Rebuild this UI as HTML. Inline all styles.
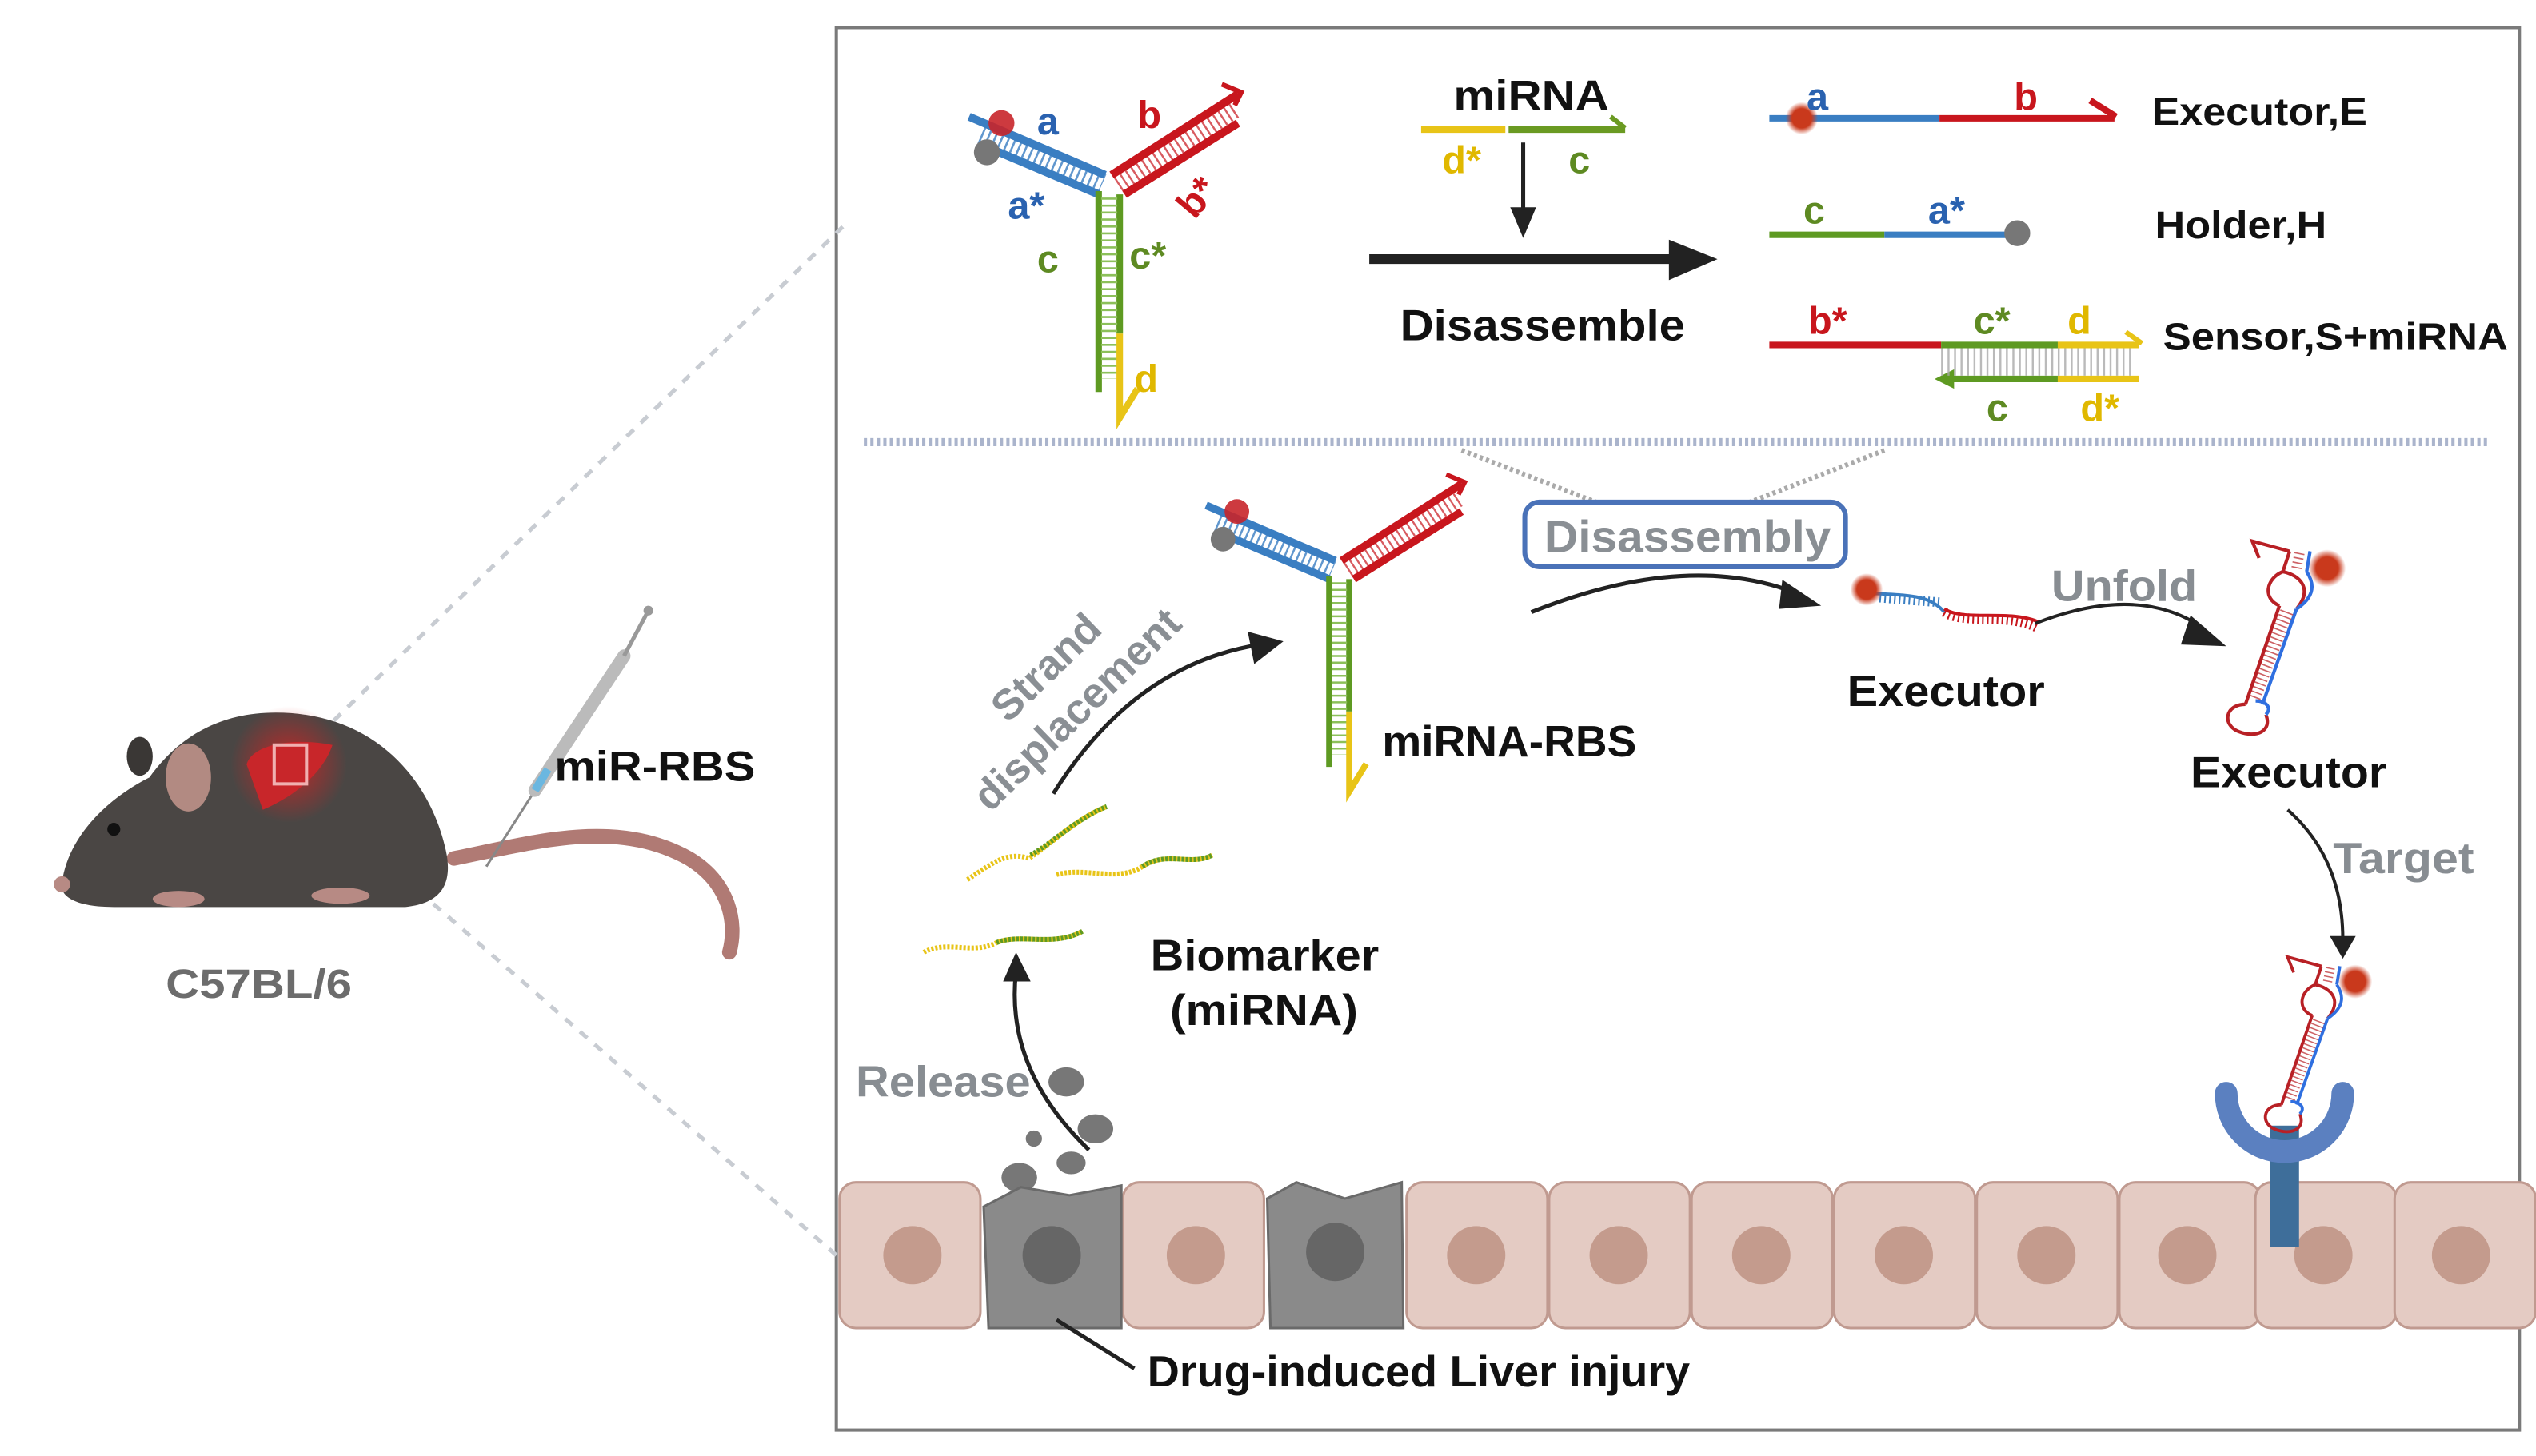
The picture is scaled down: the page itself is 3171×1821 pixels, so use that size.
<!DOCTYPE html>
<html><head><meta charset="utf-8"><style>
html,body{margin:0;padding:0;background:#fff;}
svg{display:block;}
text{font-family:"Liberation Sans",sans-serif;font-weight:bold;}
</style></head><body>
<svg width="3171" height="1821" viewBox="0 0 1565 899" xmlns="http://www.w3.org/2000/svg">
<defs>
<radialGradient id="rd"><stop offset="0" stop-color="#c9391c"/><stop offset="0.6" stop-color="#c9391c"/><stop offset="1" stop-color="#c9391c" stop-opacity="0"/></radialGradient>
<radialGradient id="glow"><stop offset="0" stop-color="#e02020" stop-opacity="0.8"/><stop offset="1" stop-color="#e02020" stop-opacity="0"/></radialGradient>
<g id="Y">
  <line x1="-86" y1="-40" x2="-2" y2="-4" stroke="#3a7ec2" stroke-width="5"/>
  <line x1="-72" y1="-20" x2="-6" y2="8" stroke="#3a7ec2" stroke-width="5"/>
  <line x1="-78" y1="-30" x2="-4" y2="2" stroke="#3a7ec2" stroke-width="14" stroke-dasharray="1.3 2.7" opacity="0.8"/>
  <line x1="2" y1="-4" x2="80" y2="-54" stroke="#c8161d" stroke-width="5"/>
  <polyline points="70,-60 82,-55 78,-47" fill="none" stroke="#c8161d" stroke-width="3"/>
  <line x1="10" y1="8" x2="80" y2="-36" stroke="#c8161d" stroke-width="5"/>
  <line x1="6" y1="2" x2="78" y2="-45" stroke="#c8161d" stroke-width="12" stroke-dasharray="1.2 2.8" opacity="0.7"/>
  <line x1="-6" y1="6" x2="-6" y2="130" stroke="#5e9a22" stroke-width="4"/>
  <line x1="7" y1="8" x2="7" y2="94" stroke="#5e9a22" stroke-width="4"/>
  <line x1="0.5" y1="10" x2="0.5" y2="122" stroke="#8cc05a" stroke-width="10" stroke-dasharray="1.3 3"/>
  <polyline points="7,94 7,146 18,128" fill="none" stroke="#e8c417" stroke-width="4"/>
  <circle cx="-66" cy="-36" r="8" fill="#c8252a" opacity="0.9"/>
  <circle cx="-75" cy="-18" r="8" fill="#777"/>
</g>
<g id="hp">
  <path d="M-2,-2 C-14,-2 -16,10 -6,14 C4,18 14,14 10,4" fill="none" stroke="#b82025" stroke-width="2"/>
  <path d="M10,4 C14,0 10,-4 4,-4" fill="none" stroke="#2f6fe0" stroke-width="2"/>
  <line x1="-2" y1="-2" x2="18" y2="-60" stroke="#b82025" stroke-width="2"/>
  <line x1="8" y1="-2" x2="28" y2="-58" stroke="#2f6fe0" stroke-width="2"/>
  <line x1="3" y1="-6" x2="23" y2="-58" stroke="#b82025" stroke-width="8" stroke-dasharray="0.8 2" opacity="0.7"/>
  <path d="M18,-60 C8,-64 10,-76 20,-80 C30,-78 38,-70 28,-58" fill="none" stroke="#b82025" stroke-width="2"/>
  <path d="M28,-58 C40,-66 38,-74 34,-80" fill="none" stroke="#2f6fe0" stroke-width="2"/>
  <line x1="20" y1="-80" x2="24" y2="-92" stroke="#b82025" stroke-width="2"/>
  <line x1="34" y1="-80" x2="36" y2="-92" stroke="#2f6fe0" stroke-width="2"/>
  <line x1="28" y1="-82" x2="30" y2="-92" stroke="#b82025" stroke-width="6" stroke-dasharray="0.8 2" opacity="0.7"/>
  <polyline points="24,-92 2,-98 6,-88" fill="none" stroke="#b82025" stroke-width="2"/>
  <circle cx="46" cy="-82" r="11" fill="url(#rd)"/>
</g>
</defs>

<rect x="516" y="17" width="1039" height="866" fill="none" stroke="#7a7a7a" stroke-width="2"/>

<line x1="180" y1="470" x2="520" y2="140" stroke="#c8ccd2" stroke-width="2.5" stroke-dasharray="6 6"/>
<line x1="195" y1="495" x2="516" y2="775" stroke="#c8ccd2" stroke-width="2.5" stroke-dasharray="6 6"/>

<!-- mouse -->
<path d="M280,530 C330,520 380,505 425,530 C450,545 455,570 450,588" fill="none" stroke="#b07a74" stroke-width="9" stroke-linecap="round"/>
<path d="M38,545 C42,515 68,492 92,480 C110,455 135,440 170,440 C230,440 265,480 275,525 C280,548 270,558 250,560 L70,560 C50,560 36,555 38,545 Z" fill="#4a4644"/>
<ellipse cx="86" cy="467" rx="8" ry="12" fill="#3a3735"/>
<ellipse cx="116" cy="480" rx="14" ry="21" fill="#b28a82"/>
<circle cx="70" cy="512" r="4" fill="#111"/>
<ellipse cx="38" cy="546" rx="5" ry="5" fill="#b78a84"/>
<ellipse cx="110" cy="555" rx="16" ry="5" fill="#b78a84"/>
<ellipse cx="210" cy="553" rx="18" ry="5" fill="#b78a84"/>
<circle cx="178" cy="472" r="36" fill="url(#glow)"/>
<path d="M152,472 C155,460 180,455 205,460 C200,475 185,490 162,500 Z" fill="#c8262a"/>
<rect x="169" y="460" width="20" height="24" fill="none" stroke="#f0b0b0" stroke-width="2"/>
<text x="102" y="616" font-size="25" fill="#6c6c6c" textLength="115" lengthAdjust="spacingAndGlyphs">C57BL/6</text>
<line x1="300" y1="535" x2="330" y2="488" stroke="#888" stroke-width="1.5"/>
<line x1="330" y1="488" x2="385" y2="405" stroke="#bbb" stroke-width="8" stroke-linecap="round"/>
<line x1="385" y1="405" x2="400" y2="377" stroke="#999" stroke-width="2.5"/>
<circle cx="400" cy="377" r="3" fill="#999"/>
<line x1="330" y1="488" x2="338" y2="475" stroke="#6bb7e0" stroke-width="5"/>
<text x="342" y="482" font-size="26" fill="#111" textLength="124" lengthAdjust="spacingAndGlyphs">miR-RBS</text>

<!-- top section -->
<use href="#Y" transform="translate(684,112)"/>
<text x="640" y="83" font-size="24" fill="#2a62b0">a</text>
<text x="622" y="135" font-size="24" fill="#2a62b0">a*</text>
<text x="702" y="79" font-size="24" fill="#c8161d">b</text>
<text x="724" y="132" font-size="24" fill="#c8161d" transform="rotate(-50 735 120)">b*</text>
<text x="640" y="168" font-size="24" fill="#5e8a22">c</text>
<text x="697" y="166" font-size="24" fill="#5e8a22">c*</text>
<text x="700" y="242" font-size="24" fill="#e0b800">d</text>

<text x="897" y="68" font-size="26" fill="#111" textLength="96" lengthAdjust="spacingAndGlyphs">miRNA</text>
<line x1="877" y1="80" x2="929" y2="80" stroke="#e8c417" stroke-width="4"/>
<line x1="931" y1="80" x2="1003" y2="80" stroke="#6a9a22" stroke-width="4"/>
<line x1="994" y1="72" x2="1003" y2="79" stroke="#6a9a22" stroke-width="3"/>
<text x="890" y="107" font-size="24" fill="#e0b800">d*</text>
<text x="968" y="107" font-size="24" fill="#5e8a22">c</text>
<line x1="940" y1="88" x2="940" y2="132" stroke="#222" stroke-width="2.5"/>
<polygon points="932,128 948,128 940,147" fill="#222"/>
<line x1="845" y1="160" x2="1035" y2="160" stroke="#222" stroke-width="6"/>
<polygon points="1030,148 1060,160 1030,173" fill="#222"/>
<text x="864" y="210" font-size="27" fill="#111" textLength="176" lengthAdjust="spacingAndGlyphs">Disassemble</text>

<line x1="1092" y1="73" x2="1197" y2="73" stroke="#3a7ec2" stroke-width="4"/>
<line x1="1197" y1="73" x2="1305" y2="73" stroke="#c8161d" stroke-width="4"/>
<polyline points="1290,62 1306,72" fill="none" stroke="#c8161d" stroke-width="4"/>
<circle cx="1112" cy="73" r="10" fill="url(#rd)"/>
<text x="1115" y="68" font-size="24" fill="#2a62b0">a</text>
<text x="1243" y="68" font-size="24" fill="#c8161d">b</text>
<text x="1328" y="77" font-size="24" fill="#111" textLength="133" lengthAdjust="spacingAndGlyphs">Executor,E</text>
<line x1="1092" y1="145" x2="1163" y2="145" stroke="#5e9a22" stroke-width="4"/>
<line x1="1163" y1="145" x2="1243" y2="145" stroke="#3a7ec2" stroke-width="4"/>
<circle cx="1245" cy="144" r="8" fill="#777"/>
<text x="1113" y="138" font-size="24" fill="#5e8a22">c</text>
<text x="1190" y="138" font-size="24" fill="#2a62b0">a*</text>
<text x="1330" y="147" font-size="24" fill="#111" textLength="106" lengthAdjust="spacingAndGlyphs">Holder,H</text>
<line x1="1092" y1="213" x2="1198" y2="213" stroke="#c8161d" stroke-width="4"/>
<line x1="1198" y1="213" x2="1270" y2="213" stroke="#5e9a22" stroke-width="4"/>
<line x1="1270" y1="213" x2="1320" y2="213" stroke="#e8c417" stroke-width="4"/>
<line x1="1312" y1="205" x2="1322" y2="212" stroke="#e8c417" stroke-width="3"/>
<line x1="1204" y1="234" x2="1270" y2="234" stroke="#5e9a22" stroke-width="4"/>
<polygon points="1194,234 1206,228 1206,240" fill="#5e9a22"/>
<line x1="1270" y1="234" x2="1320" y2="234" stroke="#e8c417" stroke-width="4"/>
<line x1="1198" y1="223.5" x2="1318" y2="223.5" stroke="#aaa" stroke-width="17" stroke-dasharray="1.2 2.8" opacity="0.8"/>
<text x="1116" y="206" font-size="24" fill="#c8161d">b*</text>
<text x="1218" y="206" font-size="24" fill="#5e8a22">c*</text>
<text x="1276" y="206" font-size="24" fill="#e0b800">d</text>
<text x="1226" y="260" font-size="24" fill="#5e8a22">c</text>
<text x="1284" y="260" font-size="24" fill="#e0b800">d*</text>
<text x="1335" y="216" font-size="24" fill="#111" textLength="213" lengthAdjust="spacingAndGlyphs">Sensor,S+miRNA</text>

<line x1="533" y1="273" x2="1535" y2="273" stroke="#aab4cc" stroke-width="5" stroke-dasharray="2 2"/>
<line x1="902" y1="278" x2="985" y2="310" stroke="#aaa" stroke-width="3" stroke-dasharray="2 2"/>
<line x1="1163" y1="278" x2="1080" y2="310" stroke="#aaa" stroke-width="3" stroke-dasharray="2 2"/>

<use href="#Y" transform="translate(826,350) scale(0.95)"/>
<text x="853" y="467" font-size="27" fill="#111" textLength="157" lengthAdjust="spacingAndGlyphs">miRNA-RBS</text>

<rect x="941" y="310" width="198" height="40" rx="9" fill="#fff" stroke="#4a72b8" stroke-width="3"/>
<text x="953" y="341" font-size="28" fill="#8a8f94" textLength="177" lengthAdjust="spacingAndGlyphs">Disassembly</text>
<path d="M945,378 Q1040,340 1108,366" fill="none" stroke="#222" stroke-width="2.5"/>
<polygon points="1100,358 1124,374 1098,376" fill="#222"/>

<path d="M1150,366 C1175,368 1190,366 1200,378" fill="none" stroke="#3a7ec2" stroke-width="2"/>
<line x1="1160" y1="369" x2="1198" y2="372" stroke="#3a7ec2" stroke-width="6" stroke-dasharray="1 2"/>
<path d="M1200,378 C1212,386 1240,378 1258,388" fill="none" stroke="#c8161d" stroke-width="6" stroke-dasharray="1 2"/>
<path d="M1200,376 C1212,384 1240,376 1258,384" fill="none" stroke="#c8161d" stroke-width="2"/>
<circle cx="1152" cy="364" r="10" fill="url(#rd)"/>
<text x="1140" y="436" font-size="27" fill="#111" textLength="122" lengthAdjust="spacingAndGlyphs">Executor</text>
<text x="1266" y="371" font-size="27" fill="#888d92" textLength="90" lengthAdjust="spacingAndGlyphs">Unfold</text>
<path d="M1256,385 Q1320,360 1360,388" fill="none" stroke="#222" stroke-width="2"/>
<polygon points="1352,380 1374,399 1346,398" fill="#222"/>
<use href="#hp" transform="translate(1388,437) scale(1.05)"/>
<text x="1352" y="486" font-size="27" fill="#111" textLength="121" lengthAdjust="spacingAndGlyphs">Executor</text>
<text x="1440" y="539" font-size="27" fill="#888d92" textLength="87" lengthAdjust="spacingAndGlyphs">Target</text>
<path d="M1412,500 Q1446,530 1446,580" fill="none" stroke="#222" stroke-width="2"/>
<polygon points="1438,578 1454,578 1446,592" fill="#222"/>

<text font-size="26" fill="#8a8f94" transform="translate(622,447) rotate(-44)">Strand</text>
<text font-size="26" fill="#8a8f94" transform="translate(611,502) rotate(-44)">displacement</text>
<path d="M650,490 Q700,410 778,398" fill="none" stroke="#222" stroke-width="2.5"/>
<polygon points="770,390 792,396 774,410" fill="#222"/>
<path d="M597,543 C610,535 620,525 635,530 C650,520 665,505 683,498" fill="none" stroke="#e8c417" stroke-width="3" stroke-dasharray="1.5 1"/>
<path d="M636,528 C650,520 665,505 683,498" fill="none" stroke="#5e9a22" stroke-width="3" stroke-dasharray="1.5 1"/>
<path d="M652,540 C670,535 690,545 705,535 C720,525 735,535 748,528" fill="none" stroke="#e8c417" stroke-width="3" stroke-dasharray="1.5 1"/>
<path d="M705,535 C720,525 735,535 748,528" fill="none" stroke="#5e9a22" stroke-width="3" stroke-dasharray="1.5 1"/>
<path d="M570,588 C585,580 600,590 615,582 C630,576 650,585 668,575" fill="none" stroke="#e8c417" stroke-width="3" stroke-dasharray="1.5 1"/>
<path d="M615,582 C630,576 650,585 668,575" fill="none" stroke="#5e9a22" stroke-width="3" stroke-dasharray="1.5 1"/>
<text x="710" y="599" font-size="27" fill="#111" textLength="141" lengthAdjust="spacingAndGlyphs">Biomarker</text>
<text x="722" y="633" font-size="27" fill="#111" textLength="116" lengthAdjust="spacingAndGlyphs">(miRNA)</text>
<text x="528" y="677" font-size="27" fill="#888d92" textLength="108" lengthAdjust="spacingAndGlyphs">Release</text>
<path d="M672,710 Q620,660 627,600" fill="none" stroke="#222" stroke-width="2.5"/>
<polygon points="619,606 627,588 636,606" fill="#222"/>
<ellipse cx="658" cy="668" rx="11" ry="9" fill="#777"/>
<ellipse cx="676" cy="697" rx="11" ry="9" fill="#777"/>
<ellipse cx="629" cy="727" rx="11" ry="9" fill="#777"/>
<ellipse cx="661" cy="718" rx="9" ry="7" fill="#777"/>
<circle cx="638" cy="703" r="5" fill="#777"/>

<g stroke="#c09a90" stroke-width="1.5">
<rect x="518" y="730" width="87" height="90" rx="10" fill="#e4cbc3"/>
<rect x="693" y="730" width="87" height="90" rx="10" fill="#e4cbc3"/>
<rect x="868" y="730" width="87" height="90" rx="10" fill="#e4cbc3"/>
<rect x="956" y="730" width="87" height="90" rx="10" fill="#e4cbc3"/>
<rect x="1044" y="730" width="87" height="90" rx="10" fill="#e4cbc3"/>
<rect x="1132" y="730" width="87" height="90" rx="10" fill="#e4cbc3"/>
<rect x="1220" y="730" width="87" height="90" rx="10" fill="#e4cbc3"/>
<rect x="1308" y="730" width="87" height="90" rx="10" fill="#e4cbc3"/>
<rect x="1392" y="730" width="87" height="90" rx="10" fill="#e4cbc3"/>
<rect x="1478" y="730" width="87" height="90" rx="10" fill="#e4cbc3"/>
</g>
<path d="M607,745 L630,733 L660,738 L692,732 L692,820 L610,820 Z" fill="#8a8a8a" stroke="#6a6a6a" stroke-width="1.5"/>
<path d="M782,740 L800,730 L830,740 L865,730 L866,820 L784,820 Z" fill="#8a8a8a" stroke="#6a6a6a" stroke-width="1.5"/>
<g fill="#c49b8d">
<circle cx="563" cy="775" r="18"/><circle cx="738" cy="775" r="18"/><circle cx="911" cy="775" r="18"/>
<circle cx="999" cy="775" r="18"/><circle cx="1087" cy="775" r="18"/><circle cx="1175" cy="775" r="18"/>
<circle cx="1263" cy="775" r="18"/><circle cx="1350" cy="775" r="18"/><circle cx="1434" cy="775" r="18"/>
<circle cx="1519" cy="775" r="18"/>
</g>
<circle cx="649" cy="775" r="18" fill="#666"/>
<circle cx="824" cy="773" r="18" fill="#666"/>
<line x1="652" y1="815" x2="700" y2="845" stroke="#222" stroke-width="2.5"/>
<text x="708" y="856" font-size="27" fill="#111" textLength="335" lengthAdjust="spacingAndGlyphs">Drug-induced  Liver injury</text>

<rect x="1401" y="695" width="18" height="75" fill="#3e6e9a"/>
<path d="M1374,675 A36,36 0 0 0 1446,675" fill="none" stroke="#5b80c0" stroke-width="14" stroke-linecap="round"/>
<use href="#hp" transform="translate(1410,684) scale(0.95)"/>
</svg>
</body></html>
